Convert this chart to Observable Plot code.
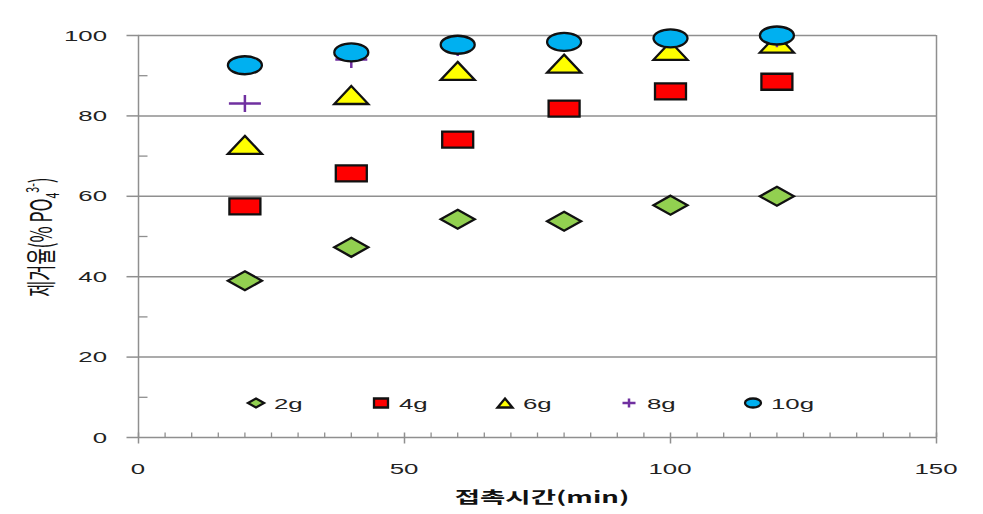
<!DOCTYPE html>
<html><head><meta charset="utf-8">
<script src="https://cdn.jsdelivr.net/npm/d3@7"></script>
<script src="https://cdn.jsdelivr.net/npm/@observablehq/plot@0.6"></script>
<style>body{margin:0;background:#fff} #chart{position:relative;width:983px;height:514px}</style>
</head><body><div id="chart"></div>
<script>
const times = [20, 40, 60, 80, 100, 120];
const seriesNames = ["2g", "4g", "6g", "8g", "10g"];
const r2g = [39.0, 47.3, 54.3, 53.8, 57.8, 60.0];
const r4g = [57.5, 65.7, 74.1, 81.8, 86.1, 88.5];
const r6g = [72.8, 85.2, 91.2, 93.0, 96.2, 98.0];
const r8g = [83.1, 94.0, 97.0, 98.0, 99.0, 99.2];
const r10g = [92.6, 95.8, 97.7, 98.4, 99.3, 100.0];
const xTicks = [0, 50, 100, 150];
const yTicks = [0, 20, 40, 60, 80, 100];
const yGrid = [20, 40, 60, 80, 100];
const yMinor = [10, 30, 50, 70, 90];
const xLabel = "접촉시간(min)";

const K = 0.5523;
const ellipse = (w, h) => ({draw(c) {
  c.moveTo(w, 0);
  c.bezierCurveTo(w, h * K, w * K, h, 0, h);
  c.bezierCurveTo(-w * K, h, -w, h * K, -w, 0);
  c.bezierCurveTo(-w, -h * K, -w * K, -h, 0, -h);
  c.bezierCurveTo(w * K, -h, w, -h * K, w, 0);
  c.closePath();
}});
const diamond = (w, h) => ({draw(c) { c.moveTo(0, -h); c.lineTo(w, 0); c.lineTo(0, h); c.lineTo(-w, 0); c.closePath(); }});
const rect = (w, h) => ({draw(c) { c.rect(-w, -h, 2 * w, 2 * h); }});
const tri = (w, h) => ({draw(c) { c.moveTo(0, -h); c.lineTo(w, h); c.lineTo(-w, h); c.closePath(); }});
const cross = (w, h) => ({draw(c) { c.moveTo(-w, 0); c.lineTo(w, 0); c.moveTo(0, -h); c.lineTo(0, h); }});
const vtick = (a, b) => ({draw(c) { c.moveTo(0, a); c.lineTo(0, b); }});
const htick = (a, b) => ({draw(c) { c.moveTo(a, 0); c.lineTo(b, 0); }});

const values = [r2g, r4g, r6g, r8g, r10g];
const rows = seriesNames.map((s, k) => times.map((t, i) => ({t, v: values[k][i], s})));

const styles = [
  {big: diamond(17, 9.5), small: diamond(8, 4.5), fill: "#92D050", stroke: "#111", sw: 2.3},
  {big: rect(15.5, 8), small: rect(7, 4.5), fill: "#FF0000", stroke: "#111", sw: 2.3},
  {big: tri(17, 9), small: tri(7.5, 4.5), fill: "#FFFF00", stroke: "#111", sw: 2.3},
  {big: cross(16, 8.5), small: cross(6.5, 4.5), fill: "none", stroke: "#7030A0", sw: 2.5},
  {big: ellipse(17, 9), small: ellipse(8, 4.5), fill: "#00B0F0", stroke: "#111", sw: 2.3}
];
const grid = "#8f8f8f";
const minorX = d3.range(0, 151, 5).filter(d => d % 50 !== 0);

const plot = Plot.plot({
  width: 983, height: 514,
  marginLeft: 138, marginRight: 47, marginTop: 35, marginBottom: 77,
  style: {fontFamily: "'Liberation Sans', Arial, sans-serif", background: "#fff"},
  x: {domain: [0, 150], axis: null},
  y: {domain: [0, 100], axis: null},
  marks: [
    Plot.ruleY(yGrid, {stroke: grid, strokeWidth: 1.5}),
    Plot.ruleY([0], {stroke: grid, strokeWidth: 1.5}),
    Plot.ruleX([0], {stroke: grid, strokeWidth: 1.5}),
    Plot.ruleX([150], {stroke: grid, strokeWidth: 1.5}),
    Plot.dot(yTicks, {x: () => 0, y: d => d, symbol: htick(-12, 0), stroke: grid, strokeWidth: 1.5}),
    Plot.dot(xTicks, {x: d => d, y: () => 0, symbol: vtick(-5, 6), stroke: grid, strokeWidth: 1.5}),
    Plot.dot(minorX, {x: d => d, y: () => 0, symbol: vtick(-5, 0), stroke: grid, strokeWidth: 1.3}),
    Plot.dot(yMinor, {x: () => 0, y: d => d, symbol: htick(0, 9), stroke: grid, strokeWidth: 1.3}),
    ...rows.map((data, k) => Plot.dot(data, {x: "t", y: "v", symbol: styles[k].big, fill: styles[k].fill, stroke: styles[k].stroke, strokeWidth: styles[k].sw}))
  ]
});

const SX = 1.72;
const xs = plot.scale("x"), ys = plot.scale("y");
const svg = d3.select(plot);
const x0 = xs.apply(0), y0 = ys.apply(0);

// tick labels (stretched like the original)
const tl = svg.append("g").attr("font-size", 15).attr("fill", "#222");
yTicks.forEach(v => {
  tl.append("text")
    .attr("transform", `translate(${x0 - 31},${ys.apply(v) + 5.5}) scale(${SX},1)`)
    .attr("text-anchor", "end").text(String(v));
});
xTicks.forEach(v => {
  tl.append("text")
    .attr("transform", `translate(${xs.apply(v)},${y0 + 36.5}) scale(${SX},1)`)
    .attr("text-anchor", "middle").text(String(v));
});

// y-axis label
const yl = svg.append("text")
  .attr("transform", `translate(52,237) scale(${SX},1) rotate(-90)`)
  .attr("text-anchor", "middle")
  .attr("font-family", "'Noto Sans CJK KR', sans-serif")
  .attr("font-size", 17.5).attr("fill", "#111");
yl.append("tspan").text("제거율(% PO");
yl.append("tspan").attr("font-size", 10.5).attr("dy", 4).text("4");
yl.append("tspan").attr("font-size", 10.5).attr("dy", -11.5).text("3-");
yl.append("tspan").attr("dy", 7.5).text(")");
// x-axis label
svg.append("text")
  .attr("transform", `translate(542,503) scale(${SX},1)`)
  .attr("text-anchor", "middle")
  .attr("font-family", "'Noto Sans CJK KR', sans-serif")
  .attr("font-weight", "bold").attr("font-size", 16).attr("fill", "#111")
  .text(xLabel);
// legend inside plot area
const legX = [256, 381, 505, 629, 753];
const lg = svg.append("g");
seriesNames.forEach((s, k) => {
  lg.append("path")
    .attr("transform", `translate(${legX[k]},403)`)
    .attr("d", d3.symbol().type(styles[k].small)())
    .attr("fill", styles[k].fill).attr("stroke", styles[k].stroke).attr("stroke-width", styles[k].sw);
  lg.append("text")
    .attr("transform", `translate(${legX[k] + 18},408.5) scale(${SX},1)`)
    .attr("text-anchor", "start")
    .attr("font-size", 15).attr("fill", "#222")
    .text(s);
});
document.getElementById("chart").appendChild(plot);
</script>
</body></html>
